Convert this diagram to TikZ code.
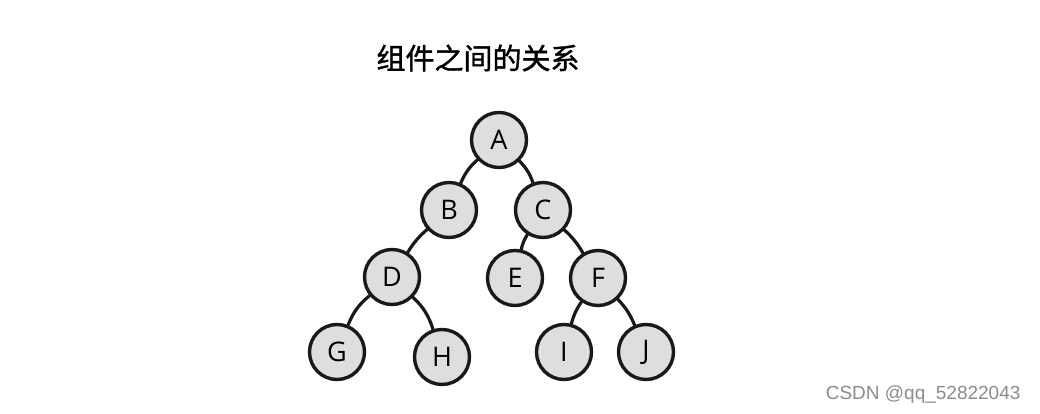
\documentclass[tikz,border=0pt]{standalone}
\usepackage{fontspec}
\setmainfont{Open Sans}
\newfontfamily\cjk{Noto Sans CJK SC}[FakeBold=1.3]
\newfontfamily\wmfont{Liberation Sans}
\begin{document}
\begin{tikzpicture}[x=1pt,y=-1pt,
  tnode/.style={circle,draw=black!90,line width=3.4pt,fill=black!13,minimum size=55pt,inner sep=0pt,font=\fontsize{27}{29}\selectfont},
  tedge/.style={draw=black!90,line width=3.2pt,line cap=round}]
\useasboundingbox[fill=white] (0,0) rectangle (1040,414);
\node[font=\cjk\fontsize{29}{32}\selectfont] (title) at (478,58) {组件之间的关系};
\node[tnode] (A) at (499,140) {A};
\node[tnode] (B) at (449,210) {B};
\node[tnode] (C) at (543,210) {C};
\node[tnode] (D) at (392,277) {D};
\node[tnode] (E) at (515,278) {E};
\node[tnode] (F) at (598,278) {F};
\node[tnode] (G) at (337,352) {G};
\node[tnode] (H) at (442,357) {H};
\node[tnode] (I) at (564,352) {I};
\node[tnode] (J) at (646,352) {J};
\draw[tedge] (A) to[bend right=12] (B);
\draw[tedge] (A) to[bend left=12] (C);
\draw[tedge] (B) to[bend right=8] (D);
\draw[tedge] (C) to[bend right=10] (E);
\draw[tedge] (C) to[bend left=8] (F);
\draw[tedge] (D) to[bend right=14] (G);
\draw[tedge] (D) to[bend left=14] (H);
\draw[tedge] (F) to[bend right=10] (I);
\draw[tedge] (F) to[bend left=10] (J);
\node[font=\wmfont\fontsize{19}{21}\selectfont,text=black!45,anchor=east] (wm) at (1024,395) {CSDN @qq\_52822043};
\end{tikzpicture}
\end{document}
